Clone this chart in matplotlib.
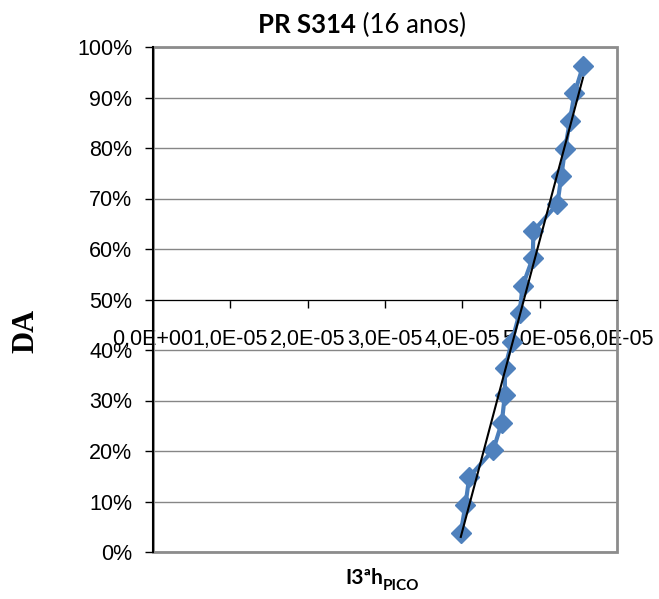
"""Cumulative distribution of I3ªh peak values for PR S314 (16 anos)."""

import matplotlib

matplotlib.use("Agg")
import matplotlib.pyplot as plt  # noqa: E402
import numpy as np  # noqa: E402
from matplotlib.patches import Rectangle  # noqa: E402

# values
i3h_pico = [3.98e-5, 4.04e-5, 4.09e-5, 4.40e-5, 4.51e-5, 4.55e-5, 4.55e-5, 4.64e-5, 4.74e-5,
            4.78e-5, 4.91e-5, 4.92e-5, 5.23e-5, 5.28e-5, 5.33e-5, 5.39e-5, 5.45e-5, 5.56e-5]
da = [0.038, 0.093, 0.149, 0.202, 0.256, 0.311, 0.364, 0.416, 0.473,
      0.527, 0.582, 0.636, 0.689, 0.745, 0.799, 0.853, 0.908, 0.962]

x_ticks = [0.0, 1e-5, 2e-5, 3e-5, 4e-5, 5e-5, 6e-5]
x_tick_labels = ["0,0E+00", "1,0E-05", "2,0E-05", "3,0E-05", "4,0E-05", "5,0E-05", "6,0E-05"]
y_ticks = [i / 10 for i in range(11)]
y_tick_labels = [f"{i * 10}%" for i in range(11)]

BLUE = "#4a7ebb"
GRID = "#868686"
SANS = "Liberation Sans"
TITLE_FONT = "Lato"

fig = plt.figure(figsize=(6.59, 5.99), dpi=100)
ax = fig.add_axes([153 / 659, 1 - 552 / 599, 464 / 659, 505 / 599])

ax.plot(i3h_pico, da, color=BLUE, lw=3, marker="D", ms=10, mfc="#4f81bd", mec="#4f81bd", zorder=3)

# linear trend line over the data range
slope, icpt = np.polyfit(i3h_pico, da, 1)
xs = np.array([min(i3h_pico), max(i3h_pico)])
ax.plot(xs, slope * xs + icpt, color="black", lw=1.5, zorder=4)

# spines first: moving the bottom spine resets the x ticks
for s in ("top", "right"):
    ax.spines[s].set_visible(False)
ax.spines["bottom"].set_position(("data", 0.5))
ax.spines["bottom"].set_color("black")
ax.spines["left"].set_color("black")
ax.spines["left"].set_linewidth(1.5)
ax.spines["left"].set_zorder(5)
ax.add_patch(Rectangle((0, 0), 1, 1, transform=ax.transAxes, fill=False,
                       ec="#8c8c8c", lw=2, clip_on=False, zorder=1))

ax.set_xlim(0, 6e-5)
ax.set_ylim(0, 1)
ax.set_xticks(x_ticks, x_tick_labels)
ax.set_yticks(y_ticks, y_tick_labels)
ax.tick_params(axis="x", direction="out", length=6, width=1, pad=15, colors="black",
               labelsize=15.5, labelfontfamily=SANS)
ax.tick_params(axis="y", direction="out", length=6, width=1, pad=9, colors="black",
               labelsize=15.5, labelfontfamily=SANS)
ax.yaxis.grid(True, color=GRID, lw=1)
ax.set_axisbelow(True)

# title: bold id + regular age
t1 = fig.text(258 / 659, 1 - 25 / 599, "PR S314", fontsize=18.5, fontweight="bold",
              fontfamily=TITLE_FONT, ha="left", va="center")
ax.annotate(" (16 anos)", xy=(1, 0.5), xycoords=t1, fontsize=18.5, fontfamily=TITLE_FONT,
            ha="left", va="center")

# axis titles
fig.text(26 / 659, 1 - 331 / 599, "DA", rotation=90, fontsize=22, fontweight="bold",
         fontfamily="Liberation Serif", ha="center", va="center")
t2 = fig.text(345 / 659, 1 - 578 / 599, "I3ªh", fontsize=15, fontweight="bold",
              fontfamily=TITLE_FONT, ha="left", va="center")
ax.annotate("PICO", xy=(1, 0.1), xycoords=t2, fontsize=11, fontweight="bold",
            fontfamily=TITLE_FONT, ha="left", va="center")

fig.savefig("out.png", dpi=100)
